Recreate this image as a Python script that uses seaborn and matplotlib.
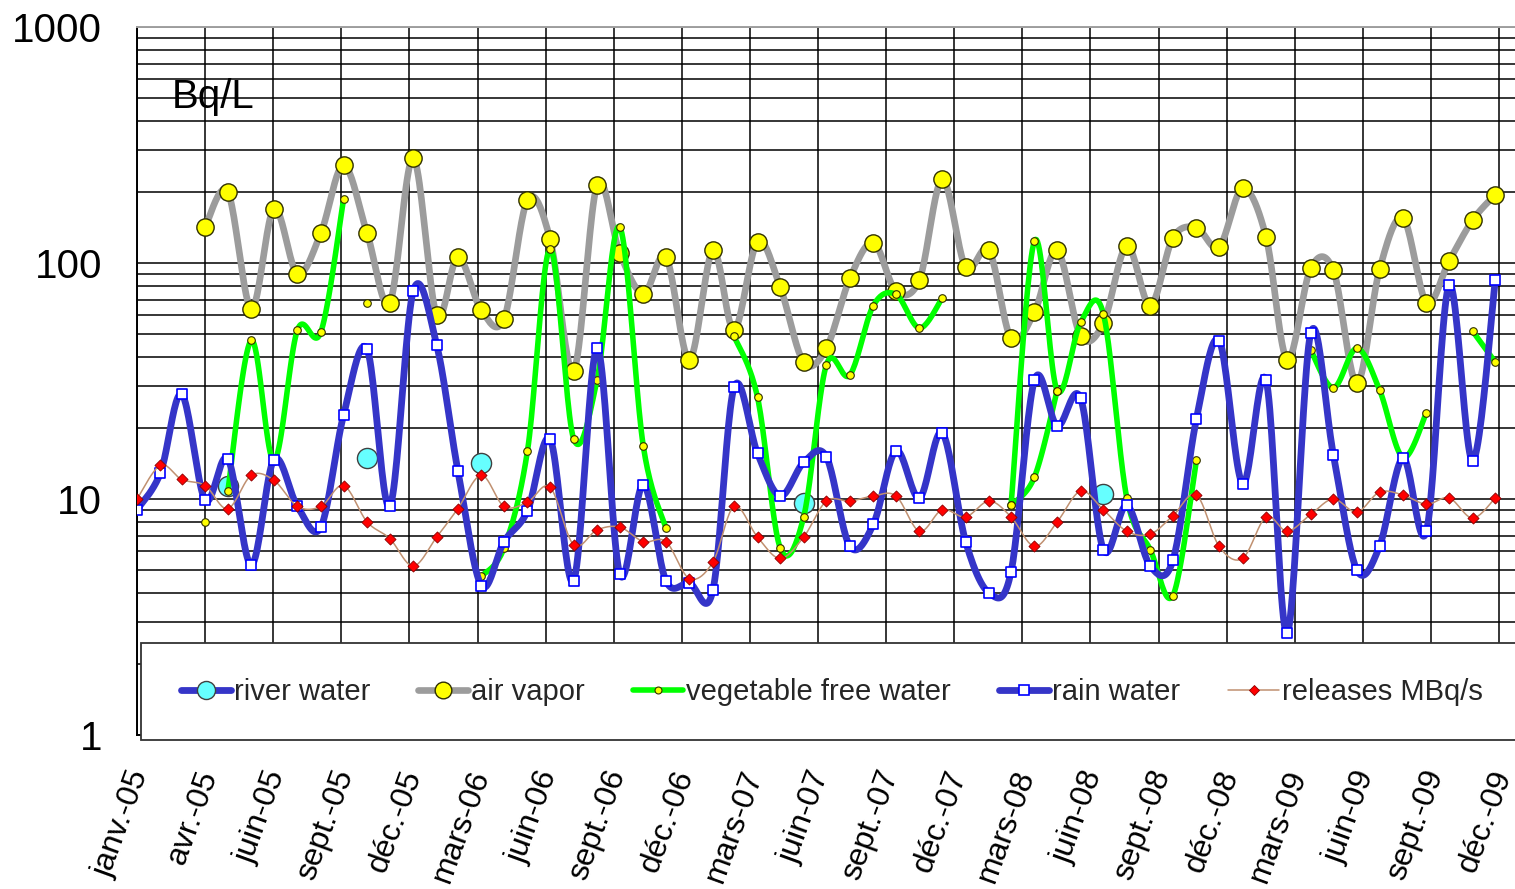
import numpy as np
import pandas as pd
import matplotlib
matplotlib.use("Agg")
import matplotlib.pyplot as plt
import matplotlib.transforms as mtrans
from matplotlib.lines import Line2D
from matplotlib.patches import Rectangle
from matplotlib.ticker import FixedLocator, LogLocator, NullFormatter, FixedFormatter
import seaborn as sns

nan = np.nan

# ---------------- data ----------------
start_date = "2005-01-01"
n_months = 60
tick_labels = ["janv.-05", "avr.-05", "juin-05", "sept.-05", "déc.-05", "mars-06",
               "juin-06", "sept.-06", "déc.-06", "mars-07", "juin-07", "sept.-07",
               "déc.-07", "mars-08", "juin-08", "sept.-08", "déc.-08", "mars-09",
               "juin-09", "sept.-09", "déc.-09"]
tick_step_days = 90
y_tick_values = [1, 10, 100, 1000]

river_water = [nan, nan, nan, nan, 11.3, nan, nan, nan, nan, nan, 14.9, nan,
               nan, nan, nan, 14.2, nan, nan, nan, nan, nan, nan, nan, nan,
               nan, nan, nan, nan, nan, 9.6, nan, nan, nan, nan, nan, nan,
               nan, nan, nan, nan, nan, nan, 10.5, nan, nan, nan, nan, nan,
               nan, nan, nan, nan, nan, nan, nan, nan, nan, nan, nan, nan]

air_vapor = [nan, nan, nan, 142, 200, 64, 170, 90, 134, 260, 134, 68,
             278, 60, 106, 63, 58, 185, 126, 35, 214, 110, 74, 106,
             39, 113, 52, 123, 79, 38, 43.5, 86, 122, 76, 85, 226,
             96, 113, 48, 62, 113, 49, 55.5, 118, 66, 128, 141, 117,
             207, 129, 39, 95, 93, 31, 94, 155, 68, 102, 152, 195]

vegetable = [nan, nan, nan, nan, 10.8, 47, 14.5, 52, 51, 186, nan, nan,
             nan, nan, nan, 4.7, 6.2, 16, 115, 18, 32, 142, 16.8, 7.5,
             nan, nan, 49, 27, 6.2, 8.4, 37, 33.5, 66, 73.6, 53, 71,
             nan, nan, 9.4, 124, 28.8, 56, 61, 10.1, 6.1, 3.9, 14.6, nan,
             nan, nan, nan, 42.8, 29.6, 43.5, 29, 15, 23.2, nan, 51.4, 38]

# additional vegetable samples (separate runs in the source chart)
veg_extra_dates = ["2005-04-01", "2005-11-01", "2008-03-01", "2008-04-01", "2008-05-01"]
veg_extra_values = [8.0, 67.6, 9.4, 12.4, 28.8]
veg_extra_run = [1, 2, 3, 3, 3]

rain_water = [9.0, 12.9, 27.8, 9.9, 14.8, 5.25, 14.7, 9.3, 7.6, 22.7, 43.2, 9.3,
              76, 45, 13.2, 4.3, 6.6, 8.9, 17.9, 4.5, 43.5, 4.8, 11.5, 4.5,
              4.4, 4.1, 29.7, 15.6, 10.3, 14.3, 15.1, 6.3, 7.8, 16.0, 10.1, 19.1,
              6.6, 4.0, 4.9, 31.9, 20.4, 26.7, 6.1, 9.4, 5.2, 5.5, 21.8, 46.9,
              11.6, 31.9, 2.7, 50.4, 15.4, 5.0, 6.3, 14.9, 7.3, 80.7, 14.5, 84.7]

releases = [10.0, 13.9, 12.1, 11.4, 9.1, 12.6, 12.0, 9.3, 9.3, 11.4, 8.0, 6.8,
            5.2, 6.9, 9.1, 12.6, 9.3, 9.7, 11.2, 6.4, 7.4, 7.6, 6.6, 6.6,
            4.6, 5.4, 9.3, 6.9, 5.6, 6.9, 9.8, 9.8, 10.3, 10.3, 7.3, 9.0,
            8.4, 9.8, 8.4, 6.3, 8.0, 10.8, 9.0, 7.3, 7.1, 8.5, 10.4, 6.3,
            5.6, 8.4, 7.3, 8.6, 10.0, 8.8, 10.7, 10.4, 9.5, 10.1, 8.3, 10.1]

# ---------------- helpers ----------------
t0 = pd.Timestamp(start_date)
months = pd.date_range(start_date, periods=n_months, freq="MS")
xdays = np.asarray((months - t0).days, dtype=float)


def smooth_run(x, y, n=24):
    """Excel-like smoothed line (Catmull-Rom Bezier) in (x, log10 y)."""
    x = np.asarray(x, float)
    ly = np.log10(np.asarray(y, float))
    if len(x) < 2:
        return x, 10 ** ly
    px = np.concatenate([[x[0]], x, [x[-1]]])
    py = np.concatenate([[ly[0]], ly, [ly[-1]]])
    outx, outy = [], []
    t = np.linspace(0, 1, n)
    for i in range(1, len(px) - 2):
        p0x, p1x, p2x, p3x = px[i - 1], px[i], px[i + 1], px[i + 2]
        p0y, p1y, p2y, p3y = py[i - 1], py[i], py[i + 1], py[i + 2]
        c1x, c1y = p1x + (p2x - p0x) / 6, p1y + (p2y - p0y) / 6
        c2x, c2y = p2x - (p3x - p1x) / 6, p2y - (p3y - p1y) / 6
        bx = (1 - t) ** 3 * p1x + 3 * (1 - t) ** 2 * t * c1x + 3 * (1 - t) * t ** 2 * c2x + t ** 3 * p2x
        by = (1 - t) ** 3 * p1y + 3 * (1 - t) ** 2 * t * c1y + 3 * (1 - t) * t ** 2 * c2y + t ** 3 * p2y
        if i > 1:
            bx, by = bx[1:], by[1:]
        outx.append(bx)
        outy.append(by)
    return np.concatenate(outx), 10 ** np.concatenate(outy)


def smooth_frame(x, values, runs=None):
    v = np.asarray(values, float)
    x = np.asarray(x, float)
    if runs is None:
        ok = ~np.isnan(v)
        runs = np.cumsum(np.concatenate([[1], (ok[1:] != ok[:-1]).astype(int)]))
        runs = np.where(ok, runs, -1)
    runs = np.asarray(runs)
    frames = []
    for r in np.unique(runs):
        if r < 0:
            continue
        m = runs == r
        sx, sy = smooth_run(x[m], v[m])
        frames.append(pd.DataFrame({"x": sx, "y": sy, "run": r}))
    return pd.concat(frames, ignore_index=True)


def points_frame(x, values):
    df = pd.DataFrame({"x": np.asarray(x, float), "y": np.asarray(values, float)})
    return df.dropna()


# ---------------- styling ----------------
sns.set_theme(style="white")
plt.rcParams["font.family"] = ["Liberation Sans", "DejaVu Sans"]

W, H = 1515, 889
fig = plt.figure(figsize=(W / 100, H / 100), dpi=100)
ax = fig.add_axes([137 / W, 1 - 735 / H, (W - 137) / W, (735 - 27) / H])
ax.set_yscale("log")

blue_line = "#3535C8"
gray_line = "#9C9C9C"
green_line = "#00FF00"
brown_line = "#C09070"

lw_gray, lw_blue, lw_green = 4.8, 4.9, 4.0

# river water (drawn first)
river_pts = points_frame(xdays, river_water)
sns.scatterplot(data=river_pts, x="x", y="y", ax=ax, marker="o", s=210,
                color="#66FFFF", edgecolor="#404040", linewidth=1.0, zorder=3, legend=False)

# air vapor
air_line = smooth_frame(xdays, air_vapor)
sns.lineplot(data=air_line, x="x", y="y", units="run", estimator=None, sort=False,
             color=gray_line, lw=lw_gray, ax=ax, legend=False, zorder=4)
sns.scatterplot(data=points_frame(xdays, air_vapor), x="x", y="y", ax=ax, marker="o", s=155,
                color="#FFFF00", edgecolor="#303000", linewidth=1.0, zorder=4.1, legend=False)

# vegetable free water
veg_line = smooth_frame(xdays, vegetable)
sns.lineplot(data=veg_line, x="x", y="y", units="run", estimator=None, sort=False,
             color=green_line, lw=lw_green, ax=ax, legend=False, zorder=5)
vex_x = np.asarray((pd.to_datetime(veg_extra_dates) - t0).days, float)
veg_extra_line = smooth_frame(vex_x, veg_extra_values, runs=veg_extra_run)
sns.lineplot(data=veg_extra_line, x="x", y="y", units="run", estimator=None, sort=False,
             color=green_line, lw=lw_green, ax=ax, legend=False, zorder=5)
veg_pts = pd.concat([points_frame(xdays, vegetable), points_frame(vex_x, veg_extra_values)])
sns.scatterplot(data=veg_pts, x="x", y="y", ax=ax, marker="o", s=30,
                color="#FFFF00", edgecolor="#303000", linewidth=0.8, zorder=5.1, legend=False)

# rain water
rain_line = smooth_frame(xdays, rain_water)
sns.lineplot(data=rain_line, x="x", y="y", units="run", estimator=None, sort=False,
             color=blue_line, lw=lw_blue, ax=ax, legend=False, zorder=6)
sns.scatterplot(data=points_frame(xdays, rain_water), x="x", y="y", ax=ax, marker="s", s=50,
                color="white", edgecolor="#0000FF", linewidth=1.2, zorder=6.1, legend=False)

# releases
rel_line = smooth_frame(xdays, releases)
sns.lineplot(data=rel_line, x="x", y="y", units="run", estimator=None, sort=False,
             color=brown_line, lw=1.1, ax=ax, legend=False, zorder=7)
sns.scatterplot(data=points_frame(xdays, releases), x="x", y="y", ax=ax, marker="D", s=32,
                color="#FF0000", edgecolor="#8B0000", linewidth=0.6, zorder=7.1, legend=False)

# ---------------- axes ----------------
x_ticks = np.arange(len(tick_labels)) * tick_step_days
ax.set_xlim(0, 1821)
ax.set_ylim(1, 1000)
ax.xaxis.set_major_locator(FixedLocator(x_ticks))
ax.xaxis.set_major_formatter(FixedFormatter(tick_labels))
ax.yaxis.set_major_locator(FixedLocator(y_tick_values))
ax.yaxis.set_major_formatter(FixedFormatter([str(v) for v in y_tick_values]))
ax.yaxis.set_minor_locator(LogLocator(base=10, subs=np.arange(2, 10)))
ax.yaxis.set_minor_formatter(NullFormatter())
ax.set_xlabel("")
ax.set_ylabel("")

ax.grid(True, which="both", axis="y", color="black", lw=1.1)
ax.grid(True, which="major", axis="x", color="black", lw=1.1)
ax.set_axisbelow(True)

ax.tick_params(axis="y", which="major", direction="out", length=10, width=1.1,
               color="black", labelsize=29, pad=15, labelcolor="black")
ax.tick_params(axis="y", which="minor", length=0)
ax.tick_params(axis="x", which="major", direction="out", length=7, width=1.1,
               color="black", labelsize=23, pad=19, labelcolor="black")

offset = mtrans.ScaledTranslation(4 / 100, 0, fig.dpi_scale_trans)
for lab in ax.get_xticklabels():
    lab.set_rotation(70)
    lab.set_ha("right")
    lab.set_va("center")
    lab.set_rotation_mode("anchor")
    lab.set_transform(lab.get_transform() + offset)

for side in ["left", "bottom"]:
    ax.spines[side].set_color("black")
    ax.spines[side].set_linewidth(1.4)
ax.spines["top"].set_color("#A0A0A0")
ax.spines["top"].set_linewidth(1.4)
ax.spines["right"].set_visible(False)

fig.text(172 / W, 1 - 97 / H, "Bq/L", fontsize=29, ha="left", va="center", color="black")

# ---------------- legend ----------------
box = Rectangle((141 / W, 1 - 740 / H), (1522 - 141) / W, 97 / H, transform=fig.transFigure,
                facecolor="white", edgecolor="#333333", linewidth=1.3, zorder=19, clip_on=False)
ax.add_patch(box)

handles = [
    Line2D([], [], color=blue_line, lw=lw_blue, marker="o", markersize=13,
           markerfacecolor="#66FFFF", markeredgecolor="#404040", markeredgewidth=1.0),
    Line2D([], [], color=gray_line, lw=lw_gray, marker="o", markersize=12,
           markerfacecolor="#FFFF00", markeredgecolor="#303000", markeredgewidth=1.0),
    Line2D([], [], color=green_line, lw=lw_green, marker="o", markersize=5,
           markerfacecolor="#FFFF00", markeredgecolor="#303000", markeredgewidth=0.8),
    Line2D([], [], color=blue_line, lw=lw_blue, marker="s", markersize=7,
           markerfacecolor="white", markeredgecolor="#0000FF", markeredgewidth=1.2),
    Line2D([], [], color=brown_line, lw=1.1, marker="D", markersize=5.5,
           markerfacecolor="#FF0000", markeredgecolor="#8B0000", markeredgewidth=0.6),
]
labels = ["river water", "air vapor", "vegetable free water", "rain water", "releases MBq/s"]
leg = ax.legend(handles, labels, ncol=5, loc="center",
                bbox_to_anchor=(((141 + 1522) / 2) / W, 1 - 692 / H),
                bbox_transform=fig.transFigure, fontsize=21, frameon=False,
                handlelength=1.72, handletextpad=0.1, borderpad=0.0,
                borderaxespad=0, columnspacing=1.65)
leg.set_zorder(20)

fig.savefig("out.png", dpi=100)
